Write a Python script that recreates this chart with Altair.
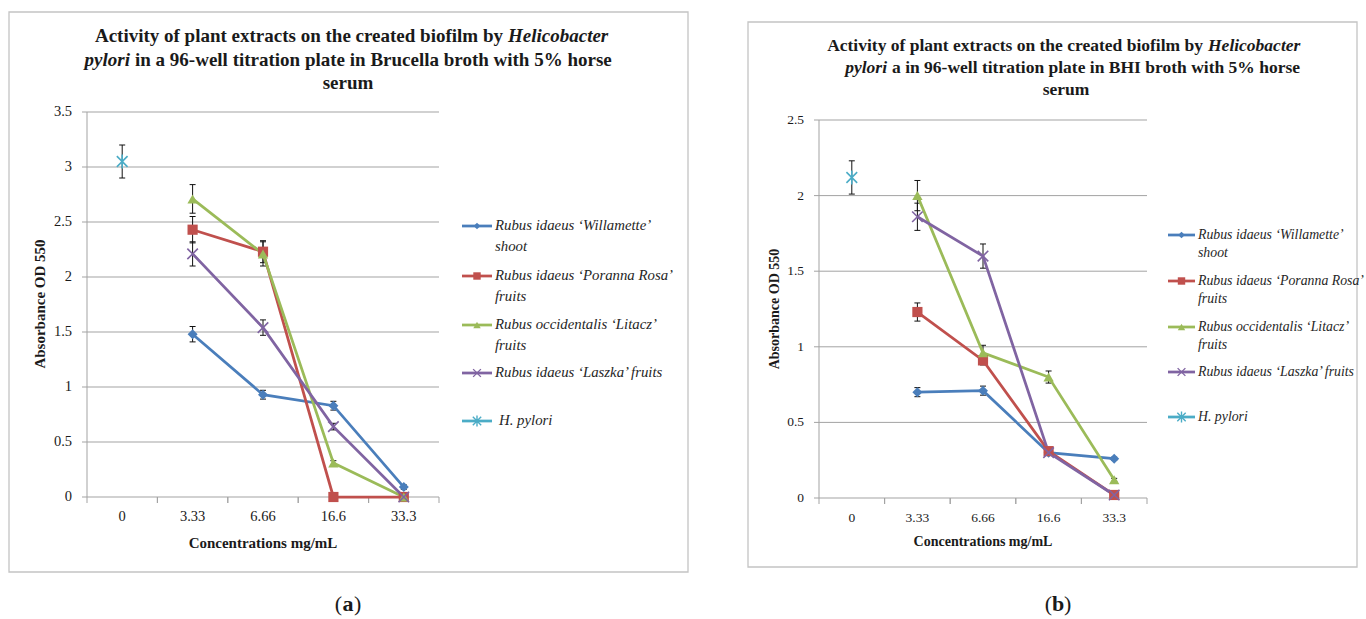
import altair as alt
import pandas as pd

# ---------------- data ----------------
categories = ["0", "3.33", "6.66", "16.6", "33.3"]
series_names = [
    "Rubus idaeus \u2018Willamette\u2019 shoot",
    "Rubus idaeus \u2018Poranna Rosa\u2019 fruits",
    "Rubus occidentalis \u2018Litacz\u2019 fruits",
    "Rubus idaeus \u2018Laszka\u2019 fruits",
    "H. pylori",
]
legend_line1 = ["Rubus idaeus \u2018Willamette\u2019", "Rubus idaeus \u2018Poranna Rosa\u2019",
                "Rubus occidentalis \u2018Litacz\u2019", "Rubus idaeus \u2018Laszka\u2019 fruits", "H. pylori"]
legend_line2 = ["shoot", "fruits", "fruits", "", ""]

# panel (a): Brucella broth
a_willamette = [None, 1.48, 0.93, 0.83, 0.09]
a_willamette_err = [None, 0.07, 0.04, 0.04, 0.02]
a_poranna = [None, 2.43, 2.23, 0.0, 0.0]
a_poranna_err = [None, 0.12, 0.10, 0.0, 0.0]
a_litacz = [None, 2.71, 2.21, 0.31, 0.0]
a_litacz_err = [None, 0.13, 0.11, 0.02, 0.0]
a_laszka = [None, 2.21, 1.54, 0.64, 0.0]
a_laszka_err = [None, 0.11, 0.07, 0.03, 0.0]
a_hpylori = [3.05, None, None, None, None]
a_hpylori_err = [0.15, None, None, None, None]

# panel (b): BHI broth
b_willamette = [None, 0.70, 0.71, 0.30, 0.26]
b_willamette_err = [None, 0.03, 0.03, 0.01, 0.01]
b_poranna = [None, 1.23, 0.91, 0.31, 0.02]
b_poranna_err = [None, 0.06, 0.03, 0.01, 0.0]
b_litacz = [None, 2.00, 0.96, 0.80, 0.12]
b_litacz_err = [None, 0.10, 0.05, 0.04, 0.01]
b_laszka = [None, 1.86, 1.60, 0.30, 0.02]
b_laszka_err = [None, 0.09, 0.08, 0.01, 0.0]
b_hpylori = [2.12, None, None, None, None]
b_hpylori_err = [0.11, None, None, None, None]

a_ticks = [0, 0.5, 1, 1.5, 2, 2.5, 3, 3.5]
a_tick_labels = ["0", "0.5", "1", "1.5", "2", "2.5", "3", "3.5"]
b_ticks = [0, 0.5, 1, 1.5, 2, 2.5]
b_tick_labels = ["0", "0.5", "1", "1.5", "2", "2.5"]

# ---------------- styles ----------------
colors = ["#4A7EBB", "#C0504D", "#9BBB59", "#8064A2", "#4BACC6"]
shapes = ["diamond", "square", "triangle-up",
          "M-1,-1L1,1M-1,1L1,-1", "M-1,-1L1,1M-1,1L1,-1M0,-1.3L0,1.3"]
point_sizes = [100, 115, 120, 120, 135]
legend_sizes = [45, 55, 55, 60, 70]
GRID = "#a3a3a3"
FONT = "Liberation Serif"
TXT = "#1a1a1a"


def long_df(vals, errs):
    rows = []
    for s, v, e in zip(series_names, vals, errs):
        for i, (c, y, er) in enumerate(zip(categories, v, e)):
            if y is None:
                continue
            rows.append({"cat": c, "idx": i, "series": s, "val": y, "err": er,
                         "lo": y - er, "hi": y + er})
    return pd.DataFrame(rows)


dummy = pd.DataFrame({"d": [0]})


def text(s, x, y, size, align="center", weight="normal", style="normal",
         angle=0, baseline="alphabetic", color=TXT):
    return alt.Chart(dummy).mark_text(
        text=s, fontSize=size, align=align, fontWeight=weight,
        fontStyle=style, angle=angle, baseline=baseline, font=FONT, color=color
    ).encode(x=alt.value(x), y=alt.value(y))


def panel(df, ticks, tick_labels, xr, yr, ydom, cfg):
    xs = alt.Scale(domain=categories, range=xr, paddingInner=0, paddingOuter=0)
    ys = alt.Scale(domain=ydom, range=yr, nice=False, zero=False)
    cs = alt.Scale(domain=series_names, range=colors)
    shp = alt.Scale(domain=series_names, range=shapes)
    szs = alt.Scale(domain=series_names, range=point_sizes)

    def X(bp):
        return alt.X("cat:N", scale=xs, axis=None, bandPosition=bp)

    tick_df = pd.DataFrame({"t": ticks, "lab": tick_labels})
    cat_df = pd.DataFrame({"cat": categories, "z": [0] * len(categories)})
    ax_df = pd.DataFrame({"lo": [ydom[0]], "hi": [ydom[1]]})

    layers = []
    # frame
    fx0, fy0, fx1, fy1 = cfg["frame"]
    layers.append(alt.Chart(dummy).mark_rect(
        fillOpacity=0, stroke="#c4c4c4", strokeWidth=1.3).encode(
        x=alt.value(fx0), x2=alt.value(fx1), y=alt.value(fy0), y2=alt.value(fy1)))
    # grid lines (with left ticks)
    layers.append(alt.Chart(tick_df).mark_rule(color=GRID, strokeWidth=1).encode(
        y=alt.Y("t:Q", scale=ys, axis=None),
        x=alt.value(xr[0] - 5), x2=alt.value(xr[1])))
    # y axis line
    layers.append(alt.Chart(ax_df).mark_rule(color=GRID, strokeWidth=1).encode(
        x=alt.value(xr[0]), y=alt.Y("lo:Q", scale=ys, axis=None), y2="hi:Q"))
    # x category boundary ticks
    for bp in (0, 1):
        layers.append(alt.Chart(cat_df).mark_rule(color=GRID, strokeWidth=1, y2Offset=6).encode(
            x=X(bp), y=alt.Y("z:Q", scale=ys, axis=None), y2="z:Q"))
    # y tick labels
    layers.append(alt.Chart(tick_df).mark_text(
        align="right", baseline="middle", font=FONT, fontSize=cfg["tick_fs"], color=TXT).encode(
        x=alt.value(cfg["ylab_x"]), y=alt.Y("t:Q", scale=ys, axis=None), text="lab:N"))
    # x tick labels
    layers.append(alt.Chart(cat_df).mark_text(
        baseline="middle", yOffset=cfg["xlab_off"], font=FONT, fontSize=cfg["tick_fs"], color=TXT).encode(
        x=X(0.5), y=alt.Y("z:Q", scale=ys, axis=None), text="cat:N"))

    # error bars
    edf = df[df["err"] > 0]
    layers.append(alt.Chart(edf).mark_rule(color="#111", strokeWidth=1).encode(
        x=X(0.5), y=alt.Y("lo:Q", scale=ys, axis=None), y2="hi:Q"))
    for fld in ("lo", "hi"):
        layers.append(alt.Chart(edf).mark_point(
            shape="M-1,0L1,0", size=36, filled=False, color="#111", strokeWidth=1, opacity=1).encode(
            x=X(0.5), y=alt.Y(f"{fld}:Q", scale=ys, axis=None)))
    # lines
    layers.append(alt.Chart(df).mark_line(strokeWidth=2.75).encode(
        x=X(0.5), y=alt.Y("val:Q", scale=ys, axis=None),
        color=alt.Color("series:N", scale=cs, legend=None),
        order="idx:Q"))
    # markers
    filled_df = df[df["series"].isin(series_names[:3])]
    open_df = df[df["series"].isin(series_names[3:])]
    layers.append(alt.Chart(filled_df).mark_point(filled=True, opacity=1).encode(
        x=X(0.5), y=alt.Y("val:Q", scale=ys, axis=None),
        color=alt.Color("series:N", scale=cs, legend=None),
        shape=alt.Shape("series:N", scale=shp, legend=None),
        size=alt.Size("series:N", scale=szs, legend=None)))
    layers.append(alt.Chart(open_df).mark_point(filled=False, opacity=1, strokeWidth=1.6).encode(
        x=X(0.5), y=alt.Y("val:Q", scale=ys, axis=None),
        color=alt.Color("series:N", scale=cs, legend=None),
        shape=alt.Shape("series:N", scale=shp, legend=None),
        size=alt.Size("series:N", scale=szs, legend=None)))

    # legend
    lx0, lx1, tx = cfg["leg_x"]
    for i in range(len(series_names)):
        ly = cfg["leg_y"][i]
        layers.append(alt.Chart(dummy).mark_rule(strokeWidth=2.75, color=colors[i]).encode(
            x=alt.value(lx0), x2=alt.value(lx1), y=alt.value(ly)))
        layers.append(alt.Chart(dummy).mark_point(
            shape=shapes[i], size=legend_sizes[i],
            filled=i < 3, color=colors[i], opacity=1, strokeWidth=1.4).encode(
            x=alt.value((lx0 + lx1) / 2), y=alt.value(ly)))
        xoff = cfg["hp_x"] if i == 4 else tx
        layers.append(text(legend_line1[i], xoff, ly, cfg["leg_fs"], align="left",
                           style="italic", baseline="middle", color="#262626"))
        if legend_line2[i]:
            layers.append(text(legend_line2[i], tx, ly + cfg["leg_lh"], cfg["leg_fs"],
                               align="left", style="italic", baseline="middle", color="#262626"))

    # titles
    t = cfg["title"]
    fs = cfg["title_fs"]
    layers.append(text(t["l1a"], t["split1"] - 2, t["y"][0], fs, align="right", weight="bold"))
    layers.append(text("Helicobacter", t["split1"] + 3, t["y"][0], fs, align="left",
                       weight="bold", style="italic"))
    layers.append(text("pylori", t["split2"] - 2, t["y"][1], fs, align="right",
                       weight="bold", style="italic"))
    layers.append(text(t["l2b"], t["split2"] + 3, t["y"][1], fs, align="left", weight="bold"))
    layers.append(text("serum", t["cx"], t["y"][2], fs, weight="bold"))

    # axis titles
    layers.append(text("Absorbance OD 550", cfg["ytitle"][0], cfg["ytitle"][1],
                       cfg["axis_fs"], weight="bold", angle=270, baseline="middle"))
    layers.append(text("Concentrations mg/mL", cfg["xtitle"][0], cfg["xtitle"][1],
                       cfg["axis_fs"], weight="bold", baseline="middle"))
    # sub caption
    sx, sy = cfg["sub"]
    layers.append(text("(", sx - 6, sy, 22, align="right", baseline="middle"))
    layers.append(text(cfg["sub_letter"], sx, sy, 22, weight="bold", baseline="middle"))
    layers.append(text(")", sx + 6, sy, 22, align="left", baseline="middle"))

    return alt.layer(*layers)


df_a = long_df([a_willamette, a_poranna, a_litacz, a_laszka, a_hpylori],
               [a_willamette_err, a_poranna_err, a_litacz_err, a_laszka_err, a_hpylori_err])
df_b = long_df([b_willamette, b_poranna, b_litacz, b_laszka, b_hpylori],
               [b_willamette_err, b_poranna_err, b_litacz_err, b_laszka_err, b_hpylori_err])

cfg_a = {
    "frame": (9, 12, 688, 572),
    "tick_fs": 14.5, "ylab_x": 72, "xlab_off": 20,
    "leg_x": (462, 492, 495), "hp_x": 499, "leg_y": [226, 276, 325, 373, 421],
    "leg_lh": 21, "leg_fs": 14.8,
    "title_fs": 19,
    "title": {"l1a": "Activity of plant extracts on the created biofilm by",
              "l2b": "in a 96-well titration plate in Brucella broth with 5% horse",
              "split1": 505, "split2": 132, "cx": 348, "y": [42, 66, 89]},
    "axis_fs": 15, "ytitle": (40, 304), "xtitle": (263, 543),
    "sub": (348, 604), "sub_letter": "a",
}
cfg_b = {
    "frame": (748, 22, 1357, 567),
    "tick_fs": 13.5, "ylab_x": 804, "xlab_off": 20,
    "leg_x": (1168, 1195, 1198), "hp_x": 1198, "leg_y": [235, 281, 327, 372, 417],
    "leg_lh": 18, "leg_fs": 13.8,
    "title_fs": 17.5,
    "title": {"l1a": "Activity of plant extracts on the created biofilm by",
              "l2b": "a in 96-well titration plate in BHI  broth with 5% horse",
              "split1": 1205, "split2": 889, "cx": 1066, "y": [51, 73, 95]},
    "axis_fs": 14, "ytitle": (775, 309), "xtitle": (983, 542),
    "sub": (1058, 604), "sub_letter": "b",
}

panel_a = panel(df_a, a_ticks, a_tick_labels, [87, 439], [497, 112], [0, 3.5], cfg_a)
panel_b = panel(df_b, b_ticks, b_tick_labels, [819, 1147], [498, 120], [0, 2.5], cfg_b)

chart = alt.layer(panel_a, panel_b).resolve_scale(
    x="independent", y="independent"
).properties(
    width=1366, height=619, padding=0,
    autosize=alt.AutoSizeParams(type="none"),
    background="white",
).configure_view(strokeWidth=0)

chart.save("out.html", embed_options={"renderer": "svg", "actions": False})
